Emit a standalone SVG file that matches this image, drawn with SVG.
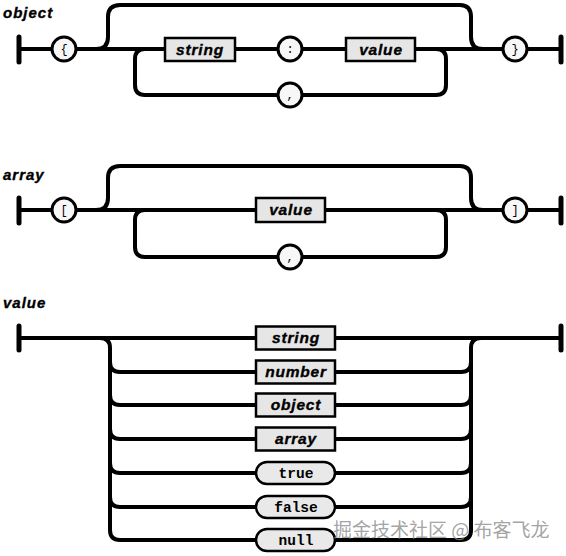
<svg xmlns="http://www.w3.org/2000/svg" width="566" height="556" viewBox="0 0 566 556">
<style>
.ln{fill:none;stroke:#000;stroke-width:4;stroke-linejoin:round}
.bar{stroke:#000;stroke-width:5;stroke-linecap:round}
.box{fill:#e6e6e6;stroke:#000;stroke-width:2.5}
.pill{fill:#e9e9e9;stroke:#000;stroke-width:2.5}
.circ{fill:#f7f7f7;stroke:#000;stroke-width:3}
.title{font-family:"Liberation Sans",Arial,sans-serif;font-weight:bold;font-style:italic;font-size:15px;letter-spacing:1px;fill:#000;stroke:#000;stroke-width:0.35}
.bt{font-family:"Liberation Sans",Arial,sans-serif;font-weight:bold;font-style:italic;font-size:15.5px;letter-spacing:0.8px;fill:#000;stroke:#000;stroke-width:0.35;text-anchor:middle}
.lt{font-family:"Liberation Mono","Courier New",monospace;font-weight:bold;font-size:14.5px;fill:#000;text-anchor:middle}
.ct{font-family:"Liberation Mono","Courier New",monospace;font-size:12px;fill:#000;text-anchor:middle}
.wm{font-family:"Noto Sans CJK SC",sans-serif;font-size:19px;fill:#8c8c8c;fill-opacity:0.8}
</style>
<rect x="0" y="0" width="566" height="556" fill="#fff"/>
<text class="title" x="3" y="18">object</text>
<text class="title" x="3" y="180">array</text>
<text class="title" x="3" y="308">value</text>
<g id="connectors">
  <line class="bar" x1="19" y1="37" x2="19" y2="62"/>
  <line class="bar" x1="561" y1="37" x2="561" y2="62"/>
  <path class="ln" d="M19 49H52M76 49H165M235 49H278M302 49H346M415 49H503M527 49H561"/>
  <path class="ln" d="M96 49Q108 49 108 37V17Q108 5 120 5H460Q471 5 471 17V37Q471 49 483 49"/>
  <path class="ln" d="M145 49Q135 49 135 59V85Q135 95 145 95H278M302 95H436Q446 95 446 85V59Q446 49 436 49"/>
  <line class="bar" x1="19" y1="198" x2="19" y2="223"/>
  <line class="bar" x1="561" y1="198" x2="561" y2="223"/>
  <path class="ln" d="M19 210H52M76 210H256M325 210H503M527 210H561"/>
  <path class="ln" d="M96 210Q108 210 108 198V178Q108 166 120 166H460Q471 166 471 178V198Q471 210 483 210"/>
  <path class="ln" d="M145 210Q135 210 135 220V247Q135 257 145 257H278M302 257H436Q446 257 446 247V220Q446 210 436 210"/>
  <line class="bar" x1="19" y1="326" x2="19" y2="350"/>
  <line class="bar" x1="561" y1="326" x2="561" y2="350"/>
  <path class="ln" d="M19 338H256M335 338H561"/>
  <path class="ln" d="M100 338Q110 338 110 348V530Q110 540 120 540H256"/>
  <path class="ln" d="M335 540H461Q471 540 471 530V348Q471 338 481 338"/>
  <path class="ln" d="M110 362Q110 372 120 372H256M110 395Q110 405 120 405H256M110 429Q110 439 120 439H256M110 463Q110 473 120 473H256M110 497Q110 507 120 507H256"/>
  <path class="ln" d="M335 372H461Q471 372 471 362M335 405H461Q471 405 471 395M335 439H461Q471 439 471 429M335 473H461Q471 473 471 463M335 507H461Q471 507 471 497"/>
</g>
<g id="obj-open"><circle class="circ" cx="64" cy="49" r="12"/><text class="ct" x="64" y="53">{</text></g>
<g id="obj-string"><rect class="box" x="165" y="38" width="70" height="23"/><text class="bt" x="200" y="54.5">string</text></g>
<g id="obj-colon"><circle class="circ" cx="290" cy="49" r="12"/><text class="ct" x="290" y="53">:</text></g>
<g id="obj-value"><rect class="box" x="346" y="38" width="69" height="23"/><text class="bt" x="381" y="54.5">value</text></g>
<g id="obj-comma"><circle class="circ" cx="290" cy="95" r="12"/><text class="ct" x="290" y="99">,</text></g>
<g id="obj-close"><circle class="circ" cx="515" cy="49" r="12"/><text class="ct" x="515" y="53">}</text></g>
<g id="arr-open"><circle class="circ" cx="64" cy="210" r="12"/><text class="ct" x="64" y="214">[</text></g>
<g id="arr-value"><rect class="box" x="256" y="198" width="69" height="24"/><text class="bt" x="291" y="215">value</text></g>
<g id="arr-comma"><circle class="circ" cx="290" cy="257" r="12"/><text class="ct" x="290" y="261">,</text></g>
<g id="arr-close"><circle class="circ" cx="515" cy="210" r="12"/><text class="ct" x="515" y="214">]</text></g>
<g id="val-string"><rect class="box" x="256" y="326.5" width="79" height="23"/><text class="bt" x="296" y="343">string</text></g>
<g id="val-number"><rect class="box" x="256" y="360.5" width="79" height="23"/><text class="bt" x="296" y="377">number</text></g>
<g id="val-object"><rect class="box" x="256" y="393.5" width="79" height="23"/><text class="bt" x="296" y="410">object</text></g>
<g id="val-array"><rect class="box" x="256" y="427.5" width="79" height="23"/><text class="bt" x="296" y="444">array</text></g>
<g id="val-true"><rect class="pill" x="256" y="462" width="79" height="22" rx="11"/><text class="lt" x="296" y="477.5">true</text></g>
<g id="val-false"><rect class="pill" x="256" y="496" width="79" height="22" rx="11"/><text class="lt" x="296" y="511.5">false</text></g>
<g id="val-null"><rect class="pill" x="256" y="529" width="79" height="22" rx="11"/><text class="lt" x="296" y="544.5">null</text></g>
<text class="wm" x="333" y="537">掘金技术社区 @ 布客飞龙</text>
</svg>
